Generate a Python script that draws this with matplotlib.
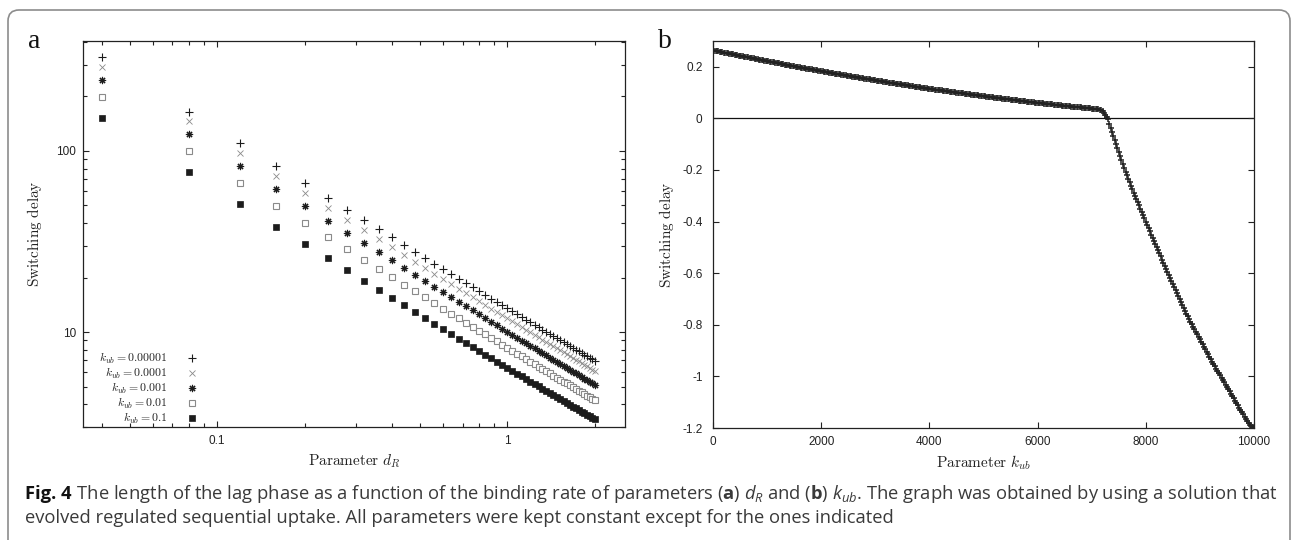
import matplotlib
matplotlib.use('Agg')
import matplotlib.pyplot as plt
from matplotlib.ticker import LogLocator, FuncFormatter, MultipleLocator, NullFormatter
from matplotlib.patches import FancyBboxPatch
from matplotlib.transforms import IdentityTransform
from matplotlib.font_manager import FontProperties

# ---------------- data ----------------
d_R = [0.04, 0.08, 0.12, 0.16, 0.20, 0.24, 0.28, 0.32, 0.36, 0.40,
       0.44, 0.48, 0.52, 0.56, 0.60, 0.64, 0.68, 0.72, 0.76, 0.80,
       0.84, 0.88, 0.92, 0.96, 1.00, 1.04, 1.08, 1.12, 1.16, 1.20,
       1.24, 1.28, 1.32, 1.36, 1.40, 1.44, 1.48, 1.52, 1.56, 1.60,
       1.64, 1.68, 1.72, 1.76, 1.80, 1.84, 1.88, 1.92, 1.96, 2.00]

kub_values = ['0.00001', '0.0001', '0.001', '0.01', '0.1']

delay_kub_1e5 = [330.0, 165.2, 110.2, 82.8, 66.3, 55.3, 47.4, 41.5, 37.0, 33.3,
                 30.3, 27.8, 25.7, 23.9, 22.3, 20.9, 19.7, 18.65, 17.68, 16.82,
                 16.03, 15.32, 14.66, 14.07, 13.52, 13.01, 12.54, 12.11, 11.70, 11.32,
                 10.97, 10.63, 10.32, 10.03, 9.75, 9.49, 9.24, 9.01, 8.78, 8.57,
                 8.37, 8.18, 8.00, 7.82, 7.66, 7.50, 7.35, 7.20, 7.06, 6.92]
delay_kub_1e4 = [291.0, 145.6, 97.2, 73.0, 58.4, 48.7, 41.8, 36.6, 32.6, 29.35,
                 26.7, 24.5, 22.64, 21.04, 19.66, 18.45, 17.38, 16.43, 15.58, 14.82,
                 14.12, 13.49, 12.92, 12.39, 11.91, 11.46, 11.05, 10.66, 10.30, 9.97,
                 9.66, 9.36, 9.09, 8.83, 8.59, 8.35, 8.14, 7.93, 7.73, 7.55,
                 7.37, 7.20, 7.04, 6.89, 6.74, 6.60, 6.47, 6.34, 6.21, 6.09]
delay_kub_1e3 = [247.0, 123.6, 82.4, 61.9, 49.5, 41.3, 35.4, 31.0, 27.6, 24.85,
                 22.6, 20.74, 19.15, 17.8, 16.62, 15.6, 14.69, 13.88, 13.16, 12.51,
                 11.92, 11.39, 10.9, 10.45, 10.04, 9.66, 9.31, 8.98, 8.68, 8.40,
                 8.13, 7.88, 7.65, 7.43, 7.22, 7.03, 6.84, 6.66, 6.50, 6.34,
                 6.19, 6.05, 5.91, 5.78, 5.65, 5.54, 5.42, 5.31, 5.21, 5.11]
delay_kub_1e2 = [199.0, 99.6, 66.5, 49.9, 40.0, 33.36, 28.63, 25.08, 22.32, 20.11,
                 18.3, 16.8, 15.52, 14.43, 13.48, 12.66, 11.92, 11.27, 10.69, 10.17,
                 9.70, 9.27, 8.87, 8.51, 8.18, 7.88, 7.59, 7.33, 7.09, 6.86,
                 6.64, 6.44, 6.25, 6.08, 5.91, 5.75, 5.60, 5.46, 5.33, 5.20,
                 5.08, 4.96, 4.85, 4.75, 4.65, 4.55, 4.46, 4.37, 4.29, 4.21]
delay_kub_1e1 = [152.0, 76.1, 50.8, 38.2, 30.6, 25.55, 21.94, 19.23, 17.13, 15.44,
                 14.06, 12.91, 11.94, 11.11, 10.38, 9.75, 9.19, 8.70, 8.25, 7.86,
                 7.49, 7.17, 6.87, 6.59, 6.34, 6.10, 5.89, 5.69, 5.50, 5.33,
                 5.16, 5.01, 4.87, 4.73, 4.60, 4.48, 4.37, 4.26, 4.16, 4.06,
                 3.97, 3.88, 3.80, 3.72, 3.64, 3.57, 3.50, 3.43, 3.37, 3.30]

# panel b: k_ub sampled every 25 from 0 to 10000 (one row per 500)
k_ub = [0, 25, 50, 75, 100, 125, 150, 175, 200, 225, 250, 275, 300, 325, 350, 375, 400, 425, 450, 475,
        500, 525, 550, 575, 600, 625, 650, 675, 700, 725, 750, 775, 800, 825, 850, 875, 900, 925, 950, 975,
        1000, 1025, 1050, 1075, 1100, 1125, 1150, 1175, 1200, 1225, 1250, 1275, 1300, 1325, 1350, 1375, 1400, 1425, 1450, 1475,
        1500, 1525, 1550, 1575, 1600, 1625, 1650, 1675, 1700, 1725, 1750, 1775, 1800, 1825, 1850, 1875, 1900, 1925, 1950, 1975,
        2000, 2025, 2050, 2075, 2100, 2125, 2150, 2175, 2200, 2225, 2250, 2275, 2300, 2325, 2350, 2375, 2400, 2425, 2450, 2475,
        2500, 2525, 2550, 2575, 2600, 2625, 2650, 2675, 2700, 2725, 2750, 2775, 2800, 2825, 2850, 2875, 2900, 2925, 2950, 2975,
        3000, 3025, 3050, 3075, 3100, 3125, 3150, 3175, 3200, 3225, 3250, 3275, 3300, 3325, 3350, 3375, 3400, 3425, 3450, 3475,
        3500, 3525, 3550, 3575, 3600, 3625, 3650, 3675, 3700, 3725, 3750, 3775, 3800, 3825, 3850, 3875, 3900, 3925, 3950, 3975,
        4000, 4025, 4050, 4075, 4100, 4125, 4150, 4175, 4200, 4225, 4250, 4275, 4300, 4325, 4350, 4375, 4400, 4425, 4450, 4475,
        4500, 4525, 4550, 4575, 4600, 4625, 4650, 4675, 4700, 4725, 4750, 4775, 4800, 4825, 4850, 4875, 4900, 4925, 4950, 4975,
        5000, 5025, 5050, 5075, 5100, 5125, 5150, 5175, 5200, 5225, 5250, 5275, 5300, 5325, 5350, 5375, 5400, 5425, 5450, 5475,
        5500, 5525, 5550, 5575, 5600, 5625, 5650, 5675, 5700, 5725, 5750, 5775, 5800, 5825, 5850, 5875, 5900, 5925, 5950, 5975,
        6000, 6025, 6050, 6075, 6100, 6125, 6150, 6175, 6200, 6225, 6250, 6275, 6300, 6325, 6350, 6375, 6400, 6425, 6450, 6475,
        6500, 6525, 6550, 6575, 6600, 6625, 6650, 6675, 6700, 6725, 6750, 6775, 6800, 6825, 6850, 6875, 6900, 6925, 6950, 6975,
        7000, 7025, 7050, 7075, 7100, 7125, 7150, 7175, 7200, 7225, 7250, 7275, 7300, 7325, 7350, 7375, 7400, 7425, 7450, 7475,
        7500, 7525, 7550, 7575, 7600, 7625, 7650, 7675, 7700, 7725, 7750, 7775, 7800, 7825, 7850, 7875, 7900, 7925, 7950, 7975,
        8000, 8025, 8050, 8075, 8100, 8125, 8150, 8175, 8200, 8225, 8250, 8275, 8300, 8325, 8350, 8375, 8400, 8425, 8450, 8475,
        8500, 8525, 8550, 8575, 8600, 8625, 8650, 8675, 8700, 8725, 8750, 8775, 8800, 8825, 8850, 8875, 8900, 8925, 8950, 8975,
        9000, 9025, 9050, 9075, 9100, 9125, 9150, 9175, 9200, 9225, 9250, 9275, 9300, 9325, 9350, 9375, 9400, 9425, 9450, 9475,
        9500, 9525, 9550, 9575, 9600, 9625, 9650, 9675, 9700, 9725, 9750, 9775, 9800, 9825, 9850, 9875, 9900, 9925, 9950, 9975,
        10000]

delay_vs_kub = [
    0.2640, 0.2629, 0.2618, 0.2608, 0.2597, 0.2586, 0.2575, 0.2565, 0.2554, 0.2543, 0.2532, 0.2522, 0.2511, 0.2500, 0.2489, 0.2479, 0.2468, 0.2457, 0.2446, 0.2436,
    0.2425, 0.2415, 0.2404, 0.2394, 0.2384, 0.2373, 0.2363, 0.2353, 0.2342, 0.2332, 0.2322, 0.2311, 0.2301, 0.2291, 0.2280, 0.2270, 0.2259, 0.2249, 0.2239, 0.2228,
    0.2218, 0.2208, 0.2198, 0.2188, 0.2178, 0.2168, 0.2158, 0.2148, 0.2138, 0.2129, 0.2119, 0.2109, 0.2099, 0.2089, 0.2079, 0.2069, 0.2059, 0.2049, 0.2039, 0.2029,
    0.2019, 0.2010, 0.2000, 0.1991, 0.1981, 0.1972, 0.1962, 0.1953, 0.1943, 0.1934, 0.1924, 0.1915, 0.1905, 0.1896, 0.1886, 0.1877, 0.1867, 0.1858, 0.1848, 0.1839,
    0.1829, 0.1820, 0.1811, 0.1802, 0.1793, 0.1783, 0.1774, 0.1765, 0.1756, 0.1747, 0.1738, 0.1729, 0.1720, 0.1711, 0.1702, 0.1692, 0.1683, 0.1674, 0.1665, 0.1656,
    0.1647, 0.1638, 0.1629, 0.1621, 0.1612, 0.1603, 0.1595, 0.1586, 0.1577, 0.1569, 0.1560, 0.1551, 0.1543, 0.1534, 0.1525, 0.1517, 0.1508, 0.1499, 0.1490, 0.1482,
    0.1473, 0.1465, 0.1456, 0.1448, 0.1440, 0.1432, 0.1423, 0.1415, 0.1407, 0.1398, 0.1390, 0.1382, 0.1374, 0.1365, 0.1357, 0.1349, 0.1340, 0.1332, 0.1324, 0.1315,
    0.1307, 0.1299, 0.1291, 0.1284, 0.1276, 0.1268, 0.1260, 0.1252, 0.1244, 0.1236, 0.1229, 0.1221, 0.1213, 0.1205, 0.1197, 0.1189, 0.1181, 0.1173, 0.1166, 0.1158,
    0.1150, 0.1143, 0.1135, 0.1128, 0.1120, 0.1113, 0.1105, 0.1098, 0.1090, 0.1083, 0.1076, 0.1068, 0.1061, 0.1053, 0.1046, 0.1038, 0.1031, 0.1024, 0.1016, 0.1009,
    0.1001, 0.0994, 0.0987, 0.0980, 0.0973, 0.0966, 0.0959, 0.0952, 0.0945, 0.0938, 0.0931, 0.0924, 0.0917, 0.0910, 0.0902, 0.0895, 0.0888, 0.0881, 0.0874, 0.0867,
    0.0860, 0.0853, 0.0847, 0.0840, 0.0834, 0.0827, 0.0820, 0.0814, 0.0807, 0.0801, 0.0794, 0.0787, 0.0781, 0.0774, 0.0768, 0.0761, 0.0754, 0.0748, 0.0741, 0.0735,
    0.0728, 0.0722, 0.0716, 0.0710, 0.0703, 0.0697, 0.0691, 0.0685, 0.0678, 0.0672, 0.0666, 0.0660, 0.0653, 0.0647, 0.0641, 0.0635, 0.0629, 0.0622, 0.0616, 0.0610,
    0.0604, 0.0598, 0.0592, 0.0587, 0.0581, 0.0575, 0.0569, 0.0563, 0.0557, 0.0552, 0.0546, 0.0540, 0.0534, 0.0528, 0.0523, 0.0517, 0.0511, 0.0505, 0.0500, 0.0494,
    0.0488, 0.0483, 0.0477, 0.0472, 0.0466, 0.0461, 0.0456, 0.0450, 0.0445, 0.0440, 0.0434, 0.0429, 0.0423, 0.0418, 0.0413, 0.0407, 0.0402, 0.0396, 0.0391, 0.0386,
    0.0380, 0.0375, 0.0370, 0.0363, 0.0355, 0.0345, 0.0330, 0.0308, 0.0280, 0.0225, 0.0140, 0.0050, -0.0040, -0.0205, -0.0370, -0.0535, -0.0700, -0.0850, -0.1000, -0.1150,
    -0.1300, -0.1465, -0.1630, -0.1780, -0.1930, -0.2065, -0.2200, -0.2340, -0.2480, -0.2615, -0.2750, -0.2875, -0.3000, -0.3125, -0.3250, -0.3375, -0.3500, -0.3625, -0.3750, -0.3875,
    -0.4000, -0.4125, -0.4250, -0.4375, -0.4500, -0.4625, -0.4750, -0.4870, -0.4990, -0.5110, -0.5230, -0.5350, -0.5470, -0.5590, -0.5710, -0.5825, -0.5940, -0.6060, -0.6180, -0.6295,
    -0.6410, -0.6530, -0.6650, -0.6765, -0.6880, -0.7000, -0.7120, -0.7235, -0.7350, -0.7460, -0.7570, -0.7675, -0.7780, -0.7880, -0.7980, -0.8075, -0.8170, -0.8270, -0.8370, -0.8465,
    -0.8560, -0.8660, -0.8760, -0.8855, -0.8950, -0.9050, -0.9150, -0.9245, -0.9340, -0.9430, -0.9520, -0.9610, -0.9700, -0.9790, -0.9880, -0.9965, -1.0050, -1.0140, -1.0230, -1.0315,
    -1.0400, -1.0490, -1.0580, -1.0670, -1.0760, -1.0850, -1.0940, -1.1030, -1.1120, -1.1210, -1.1300, -1.1385, -1.1470, -1.1560, -1.1650, -1.1735, -1.1820, -1.1870, -1.1920, -1.1960,
    -1.2000]

caption_line1_bold = 'Fig. 4'
caption_line1 = (r' The length of the lag phase as a function of the binding rate of parameters '
                 r'($\mathbf{a}$) $d_R$ and ($\mathbf{b}$) $k_{ub}$. The graph was obtained by using a solution that')
caption_line2 = 'evolved regulated sequential uptake. All parameters were kept constant except for the ones indicated'

# ---------------- style ----------------
plt.rcParams['axes.unicode_minus'] = False
plt.rcParams['mathtext.fontset'] = 'custom'
plt.rcParams['mathtext.rm'] = 'Open Sans'
plt.rcParams['mathtext.it'] = 'Open Sans:italic'
plt.rcParams['mathtext.bf'] = 'Open Sans:bold'
plt.rcParams['font.family'] = ['Liberation Sans', 'DejaVu Sans']

W, H = 1292, 540
fig = plt.figure(figsize=(W / 100, H / 100), dpi=100)


def px_axes(x0, x1, ytop, ybot):
    return fig.add_axes([x0 / W, 1 - ybot / H, (x1 - x0) / W, (ybot - ytop) / H])


axa = px_axes(83, 625, 41, 427)
axb = px_axes(713, 1254, 41, 428)

dark = '#1c1c1c'
gray = '#8a8a8a'
label_kw = dict(fontsize=11, math_fontfamily='cm', color='#222222')

# ---------------- panel a ----------------
series = [delay_kub_1e5, delay_kub_1e4, delay_kub_1e3, delay_kub_1e2, delay_kub_1e1]
styles = [dict(marker='+', ms=5.2, mew=0.8, color=dark),
          dict(marker='x', ms=4.2, mew=0.6, color=gray),
          dict(marker=(8, 2, 0), ms=5.2, mew=0.8, color=dark),
          dict(marker='s', ms=4.4, mew=0.8, mfc='white', mec=gray),
          dict(marker='s', ms=5.0, mew=0.5, color=dark)]
for vals, kv, st in zip(series, kub_values, styles):
    axa.plot(d_R, vals, linestyle='none', label=r'$k_{ub} = %s$' % kv, **st)

axa.set_xscale('log')
axa.set_yscale('log')
axa.set_xlim(0.0345, 2.54)
axa.set_ylim(2.99, 405)
axa.xaxis.set_major_locator(LogLocator(base=10))
axa.xaxis.set_minor_locator(LogLocator(base=10, subs=range(2, 10)))
axa.yaxis.set_major_locator(LogLocator(base=10))
axa.yaxis.set_minor_locator(LogLocator(base=10, subs=range(2, 10)))
gfmt = FuncFormatter(lambda v, p: f'{v:g}')
axa.xaxis.set_major_formatter(gfmt)
axa.yaxis.set_major_formatter(gfmt)
axa.xaxis.set_minor_formatter(NullFormatter())
axa.yaxis.set_minor_formatter(NullFormatter())

leg = axa.legend(loc='lower left', bbox_to_anchor=(0.03, 0.003), frameon=False,
                 markerfirst=False, handlelength=1.0, handletextpad=1.6,
                 labelspacing=0.0, borderpad=0, borderaxespad=0, numpoints=1,
                 prop=FontProperties(size=8.5, math_fontfamily='cm'))
for t in leg.get_texts():
    t.set_color('#222222')

axa.set_ylabel(r'$\mathrm{Switching\ delay}$', **label_kw)
axa.set_xlabel(r'$\mathrm{Parameter}\ d_R$', **label_kw)
axa.yaxis.label.set_va('center')
axa.xaxis.label.set_va('center')
axa.yaxis.set_label_coords((34 - 83) / 542, 0.5)
axa.xaxis.set_label_coords(0.5, (427 - 461) / 386)

# ---------------- panel b ----------------
axb.plot(k_ub, delay_vs_kub, linestyle='none', marker='+', ms=4.8, mew=1.1, color='#222222')
axb.axhline(0, color='#111111', lw=0.9, zorder=1)
axb.set_xlim(0, 10000)
axb.set_ylim(-1.2, 0.3)
axb.xaxis.set_major_locator(MultipleLocator(2000))
axb.yaxis.set_major_locator(MultipleLocator(0.2))
axb.xaxis.set_major_formatter(FuncFormatter(lambda v, p: f'{v:g}'))
axb.yaxis.set_major_formatter(FuncFormatter(lambda v, p: '0' if abs(v) < 1e-9 else f'{v:g}'))
axb.set_ylabel(r'$\mathrm{Switching\ delay}$', **label_kw)
axb.set_xlabel(r'$\mathrm{Parameter}\ k_{ub}$', **label_kw)
axb.yaxis.label.set_va('center')
axb.xaxis.label.set_va('center')
axb.yaxis.set_label_coords((666 - 713) / 541, 0.5)
axb.xaxis.set_label_coords(0.5, (428 - 463) / 387)

for ax in (axa, axb):
    for s in ax.spines.values():
        s.set_color('#222222')
        s.set_linewidth(0.9)
    ax.tick_params(which='both', direction='in', top=True, right=True,
                   colors='#222222', labelsize=8.5, width=0.8,
                   labelfontfamily='Liberation Sans')
    ax.tick_params(which='major', length=4.5)
    ax.tick_params(which='minor', length=2.6)
    ax.tick_params(axis='x', pad=5.5)
axa.tick_params(axis='y', pad=5.0)
axb.tick_params(axis='y', pad=7.5)

# ---------------- panel letters ----------------
fig.text(28 / W, 1 - 48 / H, 'a', fontsize=20, family='Liberation Serif', va='baseline', color='#111111')
fig.text(658 / W, 1 - 48 / H, 'b', fontsize=20, family='Liberation Serif', va='baseline', color='#111111')

# ---------------- border ----------------
border = FancyBboxPatch((8, -40), 1282, 570, boxstyle='round,pad=0,rounding_size=11',
                        transform=IdentityTransform(), fill=False, ec='#8c8c8c', lw=1.2)
fig.add_artist(border)

# ---------------- caption ----------------
renderer = fig.canvas.get_renderer()
cap_color = '#3a3a3a'
base1, base2 = 499, 523


def make_caption(fs):
    t0 = fig.text(25 / W, 1 - base1 / H, caption_line1_bold, fontsize=fs, fontweight='bold',
                  family='Open Sans', color='#111111', va='baseline')
    bb = t0.get_window_extent(renderer)
    t1 = fig.text(bb.x1 / W, 1 - base1 / H, caption_line1, fontsize=fs, family='Open Sans',
                  color=cap_color, va='baseline')
    t2 = fig.text(25 / W, 1 - base2 / H, caption_line2, fontsize=fs, family='Open Sans',
                  color=cap_color, va='baseline')
    return t0, t1, t2


fs = 13.0
texts = make_caption(fs)
right = texts[1].get_window_extent(renderer).x1
for t in texts:
    t.remove()
fs = fs * (1275 - 25) / (right - 25)
make_caption(fs)

fig.savefig('out.png', dpi=100)
